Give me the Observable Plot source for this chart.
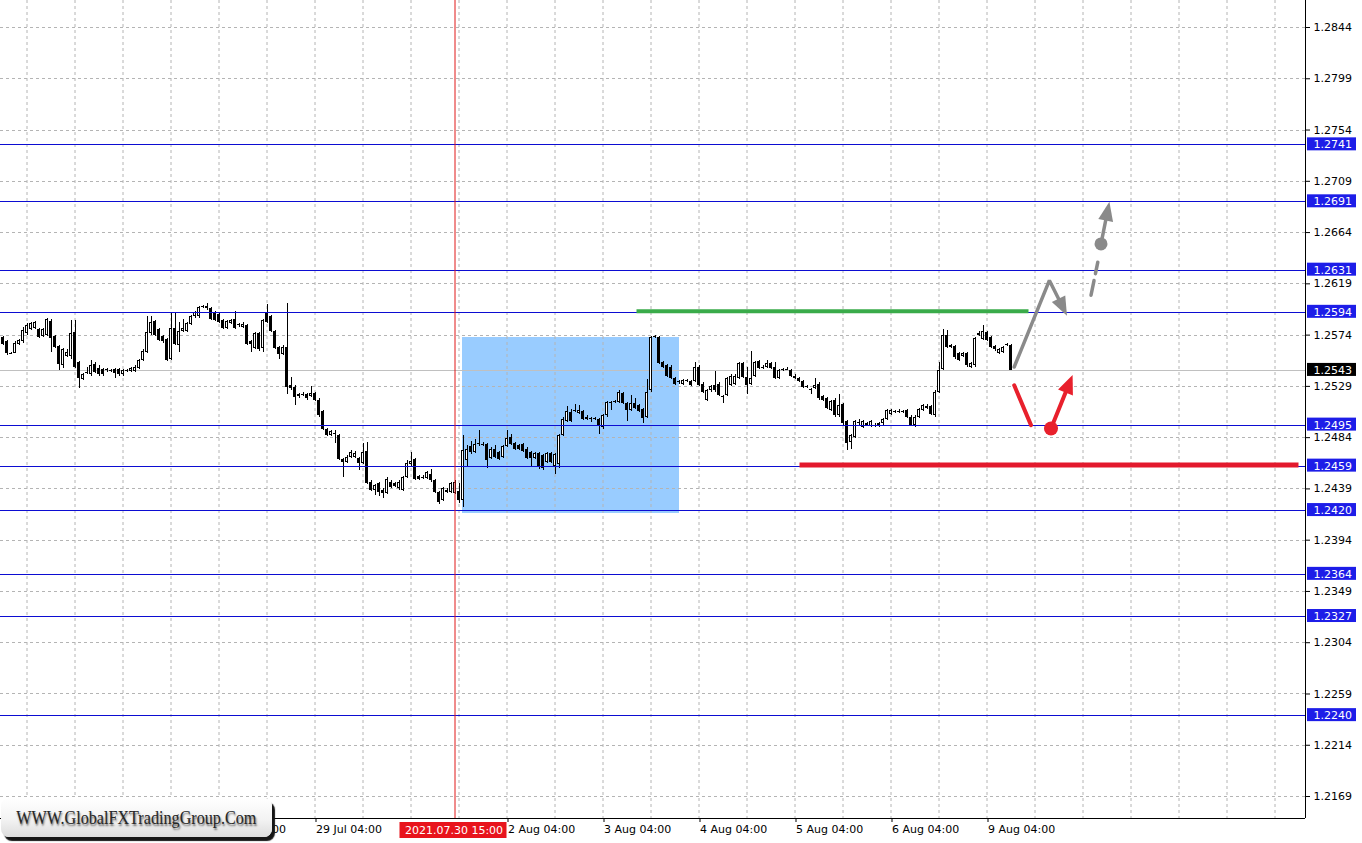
<!DOCTYPE html>
<html>
<head>
<meta charset="utf-8">
<script src="https://cdn.jsdelivr.net/npm/d3@7"></script>
<script src="https://cdn.jsdelivr.net/npm/@observablehq/plot@0.6"></script>
<style>
html,body{margin:0;padding:0;background:#fff;}
#wrap{position:relative;width:1362px;height:843px;overflow:hidden;}
#wm{position:absolute;left:1px;top:798px;width:271px;height:39px;border-radius:8px;
 background:linear-gradient(to bottom,#ffffff 0%,#f3f3f3 55%,#dcdcdc 100%);
 box-shadow:3px 4px 1px #151515;display:flex;align-items:center;justify-content:center;overflow:visible;}
#wm span{display:inline-block;font-family:"Liberation Serif","DejaVu Serif",serif;font-size:19px;color:#262626;
 text-shadow:1px 2px 2px #666;transform:scaleX(0.85);white-space:nowrap;}
</style>
</head>
<body>
<div id="wrap"><div id="chart"></div><div id="wm"><span>WWW.GlobalFXTradingGroup.Com</span></div></div>
<script>
// ---------------- DATA (H1 bars, index 0 = first visible bar) ----------------
const open = [
 1.2572,1.2568,1.2558,1.2558,1.2566,1.2568,1.2575,1.2579,1.2580,1.2579,
 1.2573,1.2574,1.2586,1.2573,1.2564,1.2547,1.2555,1.2555,1.2576,1.2550,
 1.2535,1.2540,1.2539,1.2548,1.2545,1.2544,1.2544,1.2543,1.2544,1.2544,
 1.2539,1.2542,1.2542,1.2542,1.2545,1.2552,1.2559,1.2575,1.2586,1.2579,
 1.2573,1.2570,1.2553,1.2580,1.2565,1.2577,1.2577,1.2583,1.2590,1.2590,
 1.2599,1.2597,1.2597,1.2594,1.2592,1.2587,1.2580,1.2584,1.2588,1.2582,
 1.2581,1.2582,1.2568,1.2562,1.2575,1.2562,1.2594,1.2590,1.2577,1.2563,
 1.2557,1.2563,1.2530,1.2528,1.2520,
 1.2522,1.2522,1.2520,1.2523,1.2517,
 1.2507,1.2491,1.2486,1.2488,1.2486,1.2465,1.2462,1.2467,1.2467,1.2466,
 1.2461,1.2472,1.2445,1.2438,1.2444,1.2438,1.2435,1.2445,1.2444,1.2439,
 1.2438,1.2449,1.2460,1.2465,1.2450,1.2449,1.2448,1.2452,1.2446,1.2436,
 1.2429,1.2438,1.2436,1.2435,1.2437,1.2429,
 1.2464,1.2476,1.2471,1.2479,
 1.2478,1.2478,1.2466,1.2474,1.2471,1.2467,1.2476,1.2484,1.2479,1.2477,
 1.2478,1.2474,1.2471,1.2466,1.2470,1.2468,1.2462,1.2470,1.2459,1.2460,
 1.2486,1.2498,1.2506,1.2507,1.2505,1.2507,1.2502,1.2501,1.2500,1.2500,
 1.2493,1.2503,1.2515,1.2515,1.2515,1.2523,1.2514,1.2508,1.2514,1.2512,
 1.2509,1.2502,1.2525,1.2572,1.2572,1.2550,1.2547,1.2546,1.2536,1.2533,
 1.2531,1.2533,1.2533,1.2533,1.2546,1.2531,1.2517,1.2525,1.2530,1.2531,
 1.2520,1.2521,1.2530,1.2531,1.2536,1.2549,1.2537,1.2531,1.2538,1.2551,
 1.2546,1.2546,1.2549,1.2546,1.2536,1.2543,1.2544,1.2543,1.2538,1.2536,
 1.2533,1.2528,1.2526,1.2527,1.2531,1.2520,1.2518,1.2508,1.2517,1.2503,
 1.2513,1.2498,1.2480,1.2484,1.2496,1.2493,1.2496,1.2494,1.2495,1.2495,
 1.2496,1.2500,1.2504,1.2507,1.2506,1.2507,1.2508,1.2502,1.2495,1.2502,
 1.2508,1.2511,1.2511,1.2503,1.2524,1.2544,1.2574,1.2563,1.2564,1.2558,
 1.2555,1.2558,1.2546,1.2547,1.2574,1.2570,1.2576,1.2572,1.2564,1.2558,
 1.2559,1.2566,1.2565];
const high = [
 1.2573,1.2569,1.2559,1.2568,1.2570,1.2581,1.2584,1.2585,1.2586,1.2580,
 1.2580,1.2589,1.2588,1.2574,1.2565,1.2562,1.2561,1.2587,1.2587,1.2551,
 1.2540,1.2546,1.2552,1.2550,1.2547,1.2545,1.2545,1.2544,1.2545,1.2545,
 1.2544,1.2544,1.2546,1.2547,1.2553,1.2561,1.2590,1.2590,1.2587,1.2580,
 1.2574,1.2571,1.2593,1.2593,1.2585,1.2588,1.2585,1.2591,1.2595,1.2599,
 1.2600,1.2602,1.2598,1.2595,1.2593,1.2588,1.2587,1.2588,1.2595,1.2584,
 1.2585,1.2583,1.2569,1.2576,1.2576,1.2588,1.2601,1.2591,1.2578,1.2564,
 1.2565,1.2602,1.2537,1.2530,1.2523,
 1.2524,1.2523,1.2529,1.2524,1.2518,
 1.2508,1.2492,1.2490,1.2490,1.2487,1.2466,1.2468,1.2473,1.2472,1.2467,
 1.2479,1.2480,1.2446,1.2443,1.2445,1.2439,1.2449,1.2446,1.2445,1.2446,
 1.2450,1.2464,1.2471,1.2466,1.2451,1.2451,1.2454,1.2456,1.2447,1.2437,
 1.2440,1.2439,1.2445,1.2446,1.2444,1.2486,
 1.2477,1.2481,1.2482,1.2490,
 1.2480,1.2479,1.2475,1.2477,1.2472,1.2477,1.2490,1.2487,1.2480,1.2478,
 1.2479,1.2475,1.2472,1.2471,1.2471,1.2469,1.2471,1.2471,1.2470,1.2487,
 1.2502,1.2511,1.2509,1.2513,1.2512,1.2508,1.2503,1.2502,1.2502,1.2501,
 1.2504,1.2516,1.2516,1.2517,1.2525,1.2524,1.2515,1.2521,1.2518,1.2513,
 1.2510,1.2535,1.2573,1.2574,1.2573,1.2551,1.2548,1.2547,1.2537,1.2534,
 1.2535,1.2535,1.2534,1.2550,1.2547,1.2532,1.2526,1.2530,1.2542,1.2532,
 1.2521,1.2537,1.2539,1.2539,1.2550,1.2550,1.2546,1.2560,1.2551,1.2552,
 1.2547,1.2552,1.2550,1.2550,1.2544,1.2545,1.2546,1.2544,1.2539,1.2537,
 1.2534,1.2530,1.2527,1.2536,1.2532,1.2521,1.2519,1.2517,1.2518,1.2522,
 1.2514,1.2499,1.2487,1.2499,1.2500,1.2499,1.2497,1.2499,1.2496,1.2497,
 1.2501,1.2509,1.2509,1.2508,1.2509,1.2508,1.2509,1.2503,1.2503,1.2510,
 1.2513,1.2513,1.2512,1.2525,1.2550,1.2579,1.2578,1.2566,1.2565,1.2559,
 1.2559,1.2559,1.2550,1.2572,1.2577,1.2582,1.2577,1.2573,1.2565,1.2562,
 1.2564,1.2567,1.2566];
const low = [
 1.2565,1.2556,1.2557,1.2558,1.2565,1.2567,1.2574,1.2578,1.2579,1.2571,
 1.2572,1.2573,1.2559,1.2562,1.2543,1.2545,1.2554,1.2553,1.2545,1.2527,
 1.2534,1.2539,1.2538,1.2540,1.2538,1.2538,1.2541,1.2541,1.2536,1.2538,
 1.2538,1.2541,1.2541,1.2541,1.2544,1.2551,1.2558,1.2574,1.2573,1.2568,
 1.2567,1.2551,1.2552,1.2565,1.2559,1.2576,1.2576,1.2582,1.2589,1.2589,
 1.2597,1.2596,1.2587,1.2586,1.2584,1.2579,1.2579,1.2583,1.2579,1.2581,
 1.2580,1.2565,1.2559,1.2561,1.2560,1.2559,1.2584,1.2576,1.2561,1.2553,
 1.2556,1.2522,1.2525,1.2512,1.2518,
 1.2520,1.2517,1.2519,1.2516,1.2502,
 1.2490,1.2485,1.2485,1.2479,1.2464,1.2449,1.2461,1.2466,1.2466,1.2455,
 1.2460,1.2443,1.2437,1.2433,1.2432,1.2431,1.2434,1.2439,1.2440,1.2438,
 1.2437,1.2448,1.2458,1.2446,1.2446,1.2447,1.2447,1.2445,1.2435,1.2425,
 1.2428,1.2435,1.2435,1.2434,1.2426,1.2423,
 1.2458,1.2469,1.2470,1.2476,
 1.2476,1.2457,1.2465,1.2466,1.2464,1.2466,1.2475,1.2477,1.2473,1.2473,
 1.2471,1.2465,1.2458,1.2465,1.2456,1.2455,1.2461,1.2461,1.2452,1.2457,
 1.2485,1.2497,1.2497,1.2506,1.2504,1.2499,1.2499,1.2497,1.2499,1.2487,
 1.2491,1.2502,1.2508,1.2514,1.2514,1.2513,1.2498,1.2507,1.2509,1.2506,
 1.2496,1.2501,1.2524,1.2571,1.2548,1.2545,1.2537,1.2535,1.2530,1.2531,
 1.2530,1.2532,1.2529,1.2532,1.2529,1.2523,1.2516,1.2524,1.2524,1.2520,
 1.2514,1.2520,1.2529,1.2530,1.2535,1.2536,1.2522,1.2530,1.2537,1.2544,
 1.2544,1.2545,1.2544,1.2535,1.2535,1.2542,1.2543,1.2537,1.2535,1.2532,
 1.2527,1.2527,1.2522,1.2526,1.2517,1.2516,1.2509,1.2507,1.2502,1.2502,
 1.2495,1.2473,1.2474,1.2483,1.2495,1.2492,1.2494,1.2493,1.2493,1.2493,
 1.2495,1.2499,1.2503,1.2505,1.2505,1.2505,1.2501,1.2494,1.2493,1.2501,
 1.2507,1.2509,1.2503,1.2502,1.2523,1.2543,1.2562,1.2562,1.2553,1.2551,
 1.2554,1.2546,1.2545,1.2546,1.2573,1.2569,1.2568,1.2562,1.2560,1.2557,
 1.2558,1.2564,1.2543];
const close = [
 1.2566,1.2558,1.2557,1.2567,1.2569,1.2578,1.2582,1.2584,1.2585,1.2572,
 1.2579,1.2588,1.2571,1.2563,1.2548,1.2561,1.2559,1.2575,1.2546,1.2536,
 1.2539,1.2541,1.2547,1.2541,1.2539,1.2539,1.2543,1.2542,1.2540,1.2539,
 1.2543,1.2543,1.2545,1.2546,1.2552,1.2560,1.2576,1.2585,1.2574,1.2569,
 1.2568,1.2552,1.2580,1.2566,1.2577,1.2580,1.2584,1.2590,1.2594,1.2598,
 1.2598,1.2599,1.2588,1.2587,1.2585,1.2580,1.2586,1.2587,1.2580,1.2583,
 1.2583,1.2566,1.2566,1.2575,1.2561,1.2587,1.2585,1.2577,1.2562,1.2557,
 1.2563,1.2528,1.2527,1.2519,1.2522,
 1.2521,1.2518,1.2523,1.2517,1.2503,
 1.2491,1.2486,1.2489,1.2487,1.2465,1.2462,1.2467,1.2471,1.2470,1.2461,
 1.2471,1.2444,1.2438,1.2442,1.2436,1.2435,1.2447,1.2440,1.2441,1.2445,
 1.2449,1.2461,1.2463,1.2447,1.2447,1.2448,1.2453,1.2446,1.2436,1.2427,
 1.2439,1.2436,1.2444,1.2445,1.2429,1.2473,
 1.2474,1.2471,1.2478,1.2478,
 1.2477,1.2464,1.2474,1.2467,1.2465,1.2476,1.2483,1.2478,1.2474,1.2474,
 1.2472,1.2466,1.2466,1.2470,1.2458,1.2457,1.2470,1.2462,1.2469,1.2486,
 1.2500,1.2507,1.2498,1.2508,1.2508,1.2500,1.2500,1.2500,1.2501,1.2494,
 1.2503,1.2515,1.2514,1.2516,1.2524,1.2514,1.2508,1.2514,1.2510,1.2507,
 1.2501,1.2524,1.2572,1.2573,1.2549,1.2546,1.2538,1.2536,1.2531,1.2532,
 1.2534,1.2534,1.2530,1.2546,1.2530,1.2524,1.2525,1.2529,1.2525,1.2521,
 1.2519,1.2536,1.2538,1.2538,1.2549,1.2537,1.2530,1.2536,1.2550,1.2545,
 1.2545,1.2549,1.2545,1.2536,1.2543,1.2544,1.2543,1.2538,1.2536,1.2533,
 1.2528,1.2529,1.2525,1.2530,1.2518,1.2517,1.2510,1.2516,1.2503,1.2512,
 1.2496,1.2479,1.2486,1.2498,1.2497,1.2498,1.2495,1.2498,1.2494,1.2496,
 1.2500,1.2508,1.2508,1.2506,1.2507,1.2506,1.2502,1.2495,1.2502,1.2509,
 1.2512,1.2510,1.2504,1.2524,1.2543,1.2574,1.2563,1.2565,1.2554,1.2552,
 1.2558,1.2547,1.2549,1.2571,1.2575,1.2577,1.2569,1.2563,1.2561,1.2561,
 1.2563,1.2565,1.2543];

const priceTicks = [1.2169,1.2214,1.2259,1.2304,1.2349,1.2394,1.2439,1.2484,1.2529,1.2574,1.2619,1.2664,1.2709,1.2754,1.2799,1.2844];
const levels = [1.2741,1.2691,1.2631,1.2594,1.2495,1.2459,1.2420,1.2364,1.2327,1.2240];
const lastPrice = 1.2543;
const timeTickBars = [54,78,126,150,174,198,222,246];
const timeTickLabels = ["28 Jul 04:00","29 Jul 04:00","2 Aug 04:00","3 Aug 04:00","4 Aug 04:00","5 Aug 04:00","6 Aug 04:00","9 Aug 04:00"];
const gridBars = d3.range(6, 326, 12);
const markerBar = 113, markerLabel = "2021.07.30 15:00";
const zone = {x1: 114.75, x2: 169, y1: 1.2417, y2: 1.2572};
const greenLevel = {y: 1.2595, x1: 158.5, x2: 256.5};
const redLevel = {y: 1.2460, x1: 199.25, x2: 324};
const grayPath = [{x: 252.8, y: 1.2546}, {x: 261.6, y: 1.2622}, {x: 266.0, y: 1.2591}];
const grayDash = [{x: 272.0, y: 1.2609}, {x: 273.7, y: 1.2638}];
const grayDot = {x: 274.5, y: 1.2654};
const grayTip = {x: 276.6, y: 1.2691};
const redPath = [{x: 252.8, y: 1.2530}, {x: 257.0, y: 1.2495}];
const redDot = {x: 262.0, y: 1.2492};
const redTip = {x: 267.4, y: 1.2539};

// ---------------- LAYOUT ----------------
const W = 1362, H = 843, mR = 57, mB = 25;
const xDomain = [-0.625, 325.625];
const yDomain = [1.214971, 1.286770];
const kx = (W - mR) / (xDomain[1] - xDomain[0]);
const ky = (H - mB) / (yDomain[1] - yDomain[0]);
const BLUE_LINE = "#0c0cd2", BLUE_BOX = "#1d1de8", GRAY = "#8a8a8a", RED = "#e8202c";

function heading(a, b) {
  const sx = (b.x - a.x) * kx, sy = -(b.y - a.y) * ky;
  return Math.atan2(sx, -sy) * 180 / Math.PI;
}
function shorten(a, b, px) {
  const sx = (b.x - a.x) * kx, sy = (b.y - a.y) * ky;
  const f = 1 - px / Math.hypot(sx, sy);
  return {x: a.x + (b.x - a.x) * f, y: a.y + (b.y - a.y) * f};
}
const HEAD = 19;
const headShape = {draw(ctx, l, r) { ctx.moveTo(-r, 0); ctx.lineTo(0, -l); ctx.lineTo(r, 0); ctx.closePath(); }};

const bars = open.map((o, i) => ({i, o, h: high[i], l: low[i], c: close[i]}));
const whiteBars = bars.filter(d => d.c > d.o);
const labelOf = new Map(timeTickBars.map((b, k) => [b, timeTickLabels[k]]));

const gHead1 = {x: grayPath[2].x, y: grayPath[2].y, rotate: heading(grayPath[1], grayPath[2])};
const gHead2 = {x: grayTip.x, y: grayTip.y, rotate: heading(grayDot, grayTip)};
const rHead = {x: redTip.x, y: redTip.y, rotate: heading(redDot, redTip)};
const grayLine1 = [grayPath[0], grayPath[1], shorten(grayPath[1], grayPath[2], HEAD - 4)];
const grayLine2 = [grayDot, shorten(grayDot, grayTip, HEAD - 4)];
const redLine2 = [redDot, shorten(redDot, redTip, HEAD - 4)];
const yMin = yDomain[0], xMax = xDomain[1];

const chart = Plot.plot({
  width: W, height: H,
  marginLeft: 0, marginRight: mR, marginTop: 0, marginBottom: mB,
  x: {domain: xDomain},
  y: {domain: yDomain},
  style: {fontFamily: "DejaVu Sans, sans-serif", fontSize: "11px", background: "#fff", color: "#000"},
  marks: [
    Plot.rect([zone], {x1: "x1", x2: "x2", y1: "y1", y2: "y2", fill: "#99ccff", shapeRendering: "crispEdges"}),
    Plot.ruleX(gridBars, {stroke: "#b4b4b4", strokeDasharray: "3,3"}),
    Plot.ruleY(priceTicks, {stroke: "#b4b4b4", strokeDasharray: "3,3", shapeRendering: "crispEdges"}),
    Plot.ruleY([lastPrice], {stroke: "#c0c0c0", shapeRendering: "crispEdges"}),
    // candles
    Plot.ruleX(bars, {x: "i", y1: "l", y2: "h", stroke: "#000", shapeRendering: "crispEdges"}),
    Plot.rect(bars, {x1: d => d.i - 0.375, x2: d => d.i + 0.375, y1: "o", y2: "c", fill: "#000", shapeRendering: "crispEdges"}),
    Plot.rect(whiteBars, {x1: d => d.i - 0.375, x2: d => d.i + 0.375, y1: "o", y2: "c", fill: "#fff",
      insetLeft: 1, insetRight: 1, insetTop: 1, insetBottom: 1, shapeRendering: "crispEdges"}),
    // levels
    Plot.ruleY(levels, {stroke: BLUE_LINE, shapeRendering: "crispEdges"}),
    Plot.ruleX([markerBar], {stroke: "#e01818"}),
    Plot.ruleY([greenLevel], {y: "y", x1: "x1", x2: "x2", stroke: "#3aab4a", strokeWidth: 4}),
    Plot.ruleY([redLevel], {y: "y", x1: "x1", x2: "x2", stroke: "#e3192d", strokeWidth: 5}),
    // forecast arrows
    Plot.line(grayLine1, {x: "x", y: "y", stroke: GRAY, strokeWidth: 3.5, strokeLinejoin: "miter"}),
    Plot.line(grayDash, {x: "x", y: "y", stroke: GRAY, strokeWidth: 3.5, strokeDasharray: "15,7"}),
    Plot.line(grayLine2, {x: "x", y: "y", stroke: GRAY, strokeWidth: 3.5}),
    Plot.dot([grayDot], {x: "x", y: "y", r: 6.5, fill: GRAY, stroke: "none"}),
    Plot.vector([gHead1, gHead2], {x: "x", y: "y", rotate: "rotate", length: HEAD, r: 7.5, anchor: "end", shape: headShape, fill: GRAY, stroke: "none"}),
    Plot.line(redPath, {x: "x", y: "y", stroke: RED, strokeWidth: 4}),
    Plot.line(redLine2, {x: "x", y: "y", stroke: RED, strokeWidth: 4}),
    Plot.dot([redDot], {x: "x", y: "y", r: 7, fill: RED, stroke: "none"}),
    Plot.vector([rHead], {x: "x", y: "y", rotate: "rotate", length: HEAD, r: 8, anchor: "end", shape: headShape, fill: RED, stroke: "none"}),
    // axes
    Plot.ruleX([xMax], {stroke: "#000"}),
    Plot.ruleY([yMin], {stroke: "#000"}),
    Plot.axisY({anchor: "right", ticks: priceTicks, tickFormat: d => d.toFixed(4), tickSize: 4, tickPadding: 4, label: null, fontSize: 11}),
    Plot.axisX({ticks: timeTickBars, tickFormat: d => labelOf.get(d), tickSize: 4, tickPadding: 3, textAnchor: "start", dx: 1, label: null, fontSize: 11}),
    // right-hand price boxes
    Plot.rect(levels, {x1: () => xMax, x2: () => xMax, y1: d => d, y2: d => d, fill: BLUE_BOX,
      insetLeft: 2, insetRight: -51, insetTop: -7, insetBottom: -6}),
    Plot.text(levels, {x: () => xMax, y: d => d, text: d => d.toFixed(4), fill: "#fff", textAnchor: "start", dx: 8, fontSize: 11}),
    Plot.rect([lastPrice], {x1: () => xMax, x2: () => xMax, y1: d => d, y2: d => d, fill: "#000",
      insetLeft: 2, insetRight: -51, insetTop: -7, insetBottom: -6}),
    Plot.text([lastPrice], {x: () => xMax, y: d => d, text: d => d.toFixed(4), fill: "#fff", textAnchor: "start", dx: 8, fontSize: 11}),
    // time marker label
    Plot.rect([markerBar], {x1: d => d, x2: d => d, y1: () => yMin, y2: () => yMin, fill: "#e8141c",
      insetLeft: -55, insetRight: -52, insetTop: 4, insetBottom: -20}),
    Plot.text([markerBar], {x: d => d, y: () => yMin, text: () => markerLabel, fill: "#fff", dy: 12, dx: -1, fontSize: 11})
  ]
});
document.getElementById("chart").appendChild(chart);
</script>
</body>
</html>
